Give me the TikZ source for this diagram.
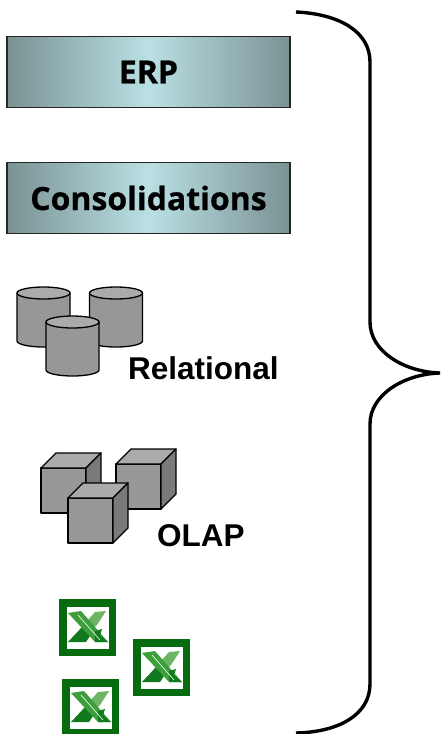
\documentclass[tikz,border=0pt]{standalone}
\usepackage{fontspec}
\setmainfont{Liberation Sans}
\newfontfamily\boxfont[BoldFeatures={FakeBold=0.6}]{Open Sans}
\definecolor{boxdark}{HTML}{7A9294}
\definecolor{boxlight}{HTML}{BAE0E4}
\definecolor{cylside}{HTML}{979797}
\definecolor{cyltop}{HTML}{ABABAB}
\definecolor{cubefront}{HTML}{989898}
\definecolor{cubetop}{HTML}{ABABAB}
\definecolor{cubeside}{HTML}{7A7A7A}
\definecolor{xlframe}{HTML}{066A0E}
\definecolor{xlmark}{HTML}{3E9E3C}
\definecolor{xlleaf}{HTML}{6DB565}
\definecolor{xlshade}{HTML}{127A1E}
\tikzset{
  panel/.style = {draw=black!85, line width=1.2pt, minimum width=283pt, minimum height=71pt,
    left color=boxdark, right color=boxdark, middle color=boxlight,
    font=\boxfont\bfseries\fontsize{32}{32}\selectfont, inner sep=0pt},
  caption/.style = {font=\bfseries\fontsize{31.5}{31.5}\selectfont, inner sep=0pt},
  edge/.style = {draw=black, line width=1.3pt, line join=round},
  pics/drum/.style = {code = {
    \path[edge, fill=cylside] (-26.5,0) -- (-26.5,48) arc[start angle=180, end angle=0, x radius=26.5, y radius=6] -- (26.5,0) -- cycle;
    \path[edge, fill=cyltop] (0,0) ellipse[x radius=26.5, y radius=6];
  }},
  pics/block/.style = {code = {
    \path[edge, fill=cubefront] (0,0) rectangle (45,45);
    \path[edge, fill=cubetop] (0,0) -- (15,-15) -- (60,-15) -- (45,0) -- cycle;
    \path[edge, fill=cubeside] (45,0) -- (60,-15) -- (60,30) -- (45,45) -- cycle;
  }},
  pics/sheet/.style = {code = {
    \fill[xlframe] (0,0) rectangle (57,57);
    \fill[white] (7.5,7.5) rectangle (49.5,49.5);
    \fill[xlleaf] (47,12) -- (36,13) -- (27,23) -- (32,31) -- (38,26) -- cycle;
    \fill[xlshade] (24,27) -- (9,43) -- (27,43) -- (33,34) -- cycle;
    \fill[xlmark] (9,14) -- (22,12) -- (49,43) -- (36,43) -- cycle;
    \fill[xlshade] (36,32) -- (43,30) -- (41,36) -- (49,43) -- (36,43) -- cycle;
    \draw[white!85!green, line width=0.7pt] (19,16) -- (41,41);
  }}
}
\begin{document}
\begin{tikzpicture}[x=1pt, y=-1pt]
  \useasboundingbox (0,0) rectangle (440,734);
  % boxes
  \node[panel] (erp) at (148.5,72) {ERP};
  \node[panel] (cons) at (148.5,198) {Consolidations};
  % databases
  \pic at (43.5,293) {drum};
  \pic at (116,293) {drum};
  \pic at (72.5,322) {drum};
  \node[caption, anchor=base west] (rel) at (128,379) {Relational};
  % cubes
  \pic at (41,468) {block};
  \pic at (116,464) {block};
  \pic at (68,498) {block};
  \node[caption, anchor=base west] (olap) at (157,546) {OLAP};
  % spreadsheets
  \pic at (59,599) {sheet};
  \pic at (133,639) {sheet};
  \pic at (62,679) {sheet};
  % brace
  \coordinate (top) at (296,12);
  \coordinate (tip) at (440,373);
  \coordinate (bottom) at (296,733);
  \draw[line width=3.4pt] (top) .. controls (340,14) and (370,32) .. (370,62) -- (370,322)
    .. controls (370,352) and (405,372) .. (tip)
    .. controls (405,374) and (370,394) .. (370,424) -- (370,684)
    .. controls (370,714) and (340,732) .. (bottom);
\end{tikzpicture}
\end{document}
